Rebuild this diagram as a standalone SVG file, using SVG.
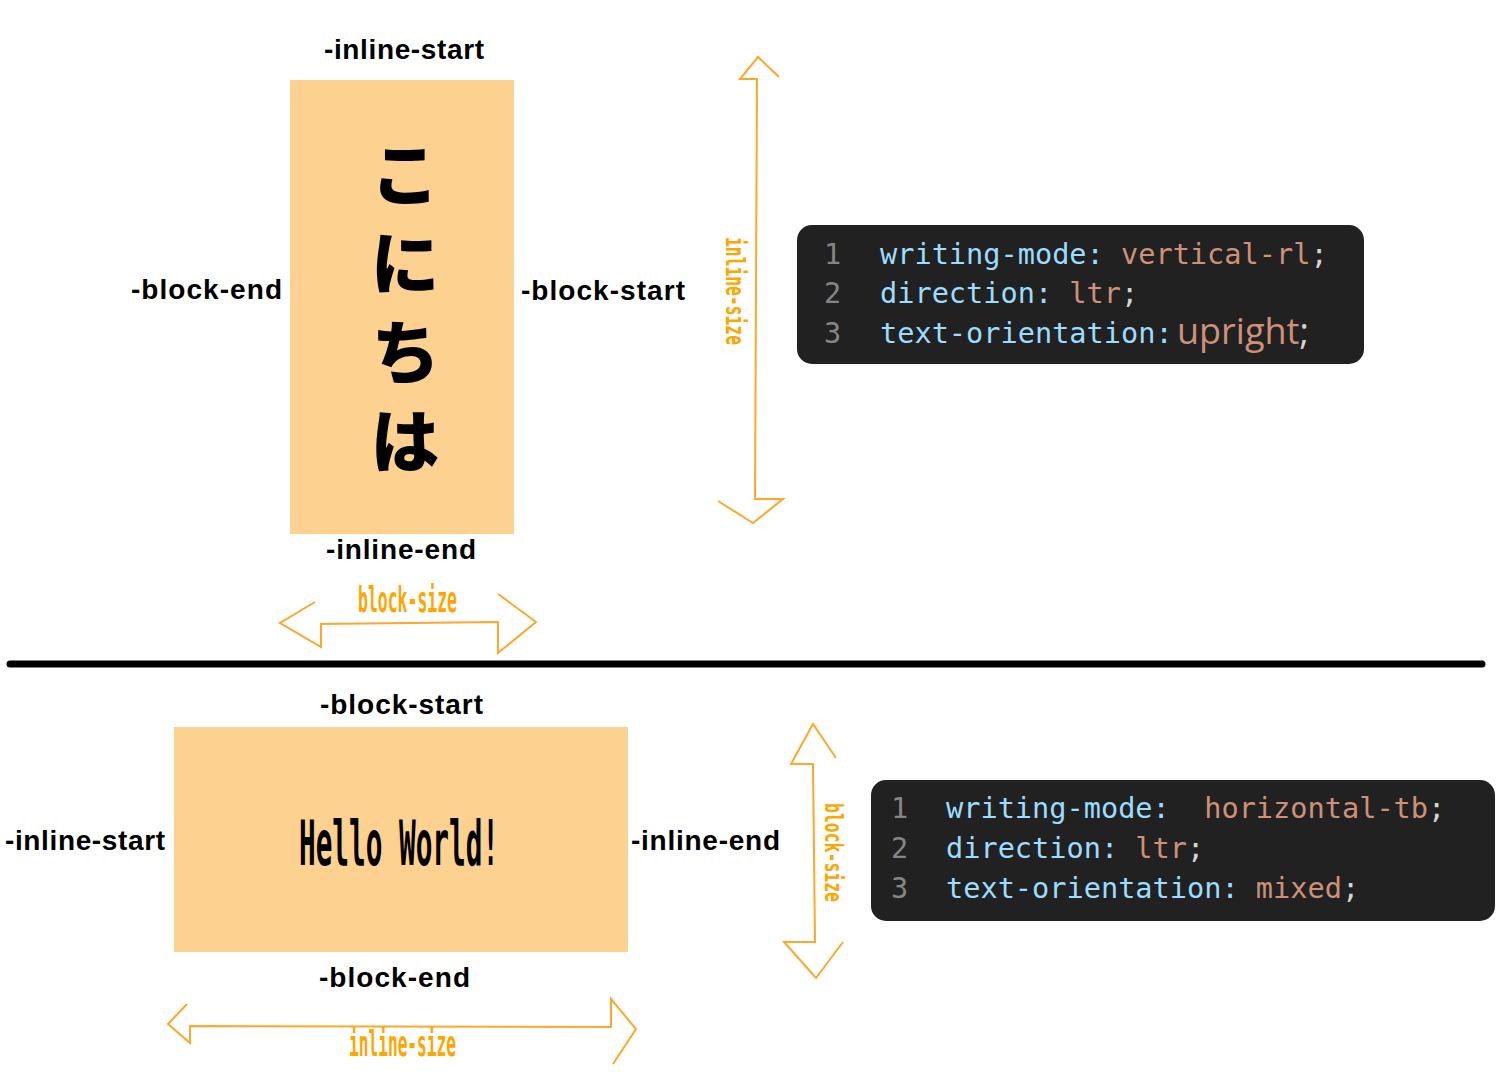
<svg xmlns="http://www.w3.org/2000/svg" width="1500" height="1077" viewBox="0 0 1500 1077">
<style>
.lbl{font-family:"Liberation Sans",Arial,sans-serif;font-weight:bold;font-size:28px;fill:#000}
.box{fill:#fdd290}
.arr{fill:none;stroke:#ffa62b;stroke-width:2;stroke-linejoin:miter}
.dim{font-family:"DejaVu Sans Mono",monospace;font-weight:bold;fill:#ffa500}
.code{fill:#212121}
.mono{font-family:"DejaVu Sans Mono","Liberation Mono",monospace;font-size:28.6px;white-space:pre}
.ln{fill:#858585}
.prop{fill:#9cdcfe}
.val{fill:#ce9178}
.pun{fill:#d4d4d4}
.jp{font-family:"Noto Sans CJK JP",sans-serif;font-weight:900;font-size:70px;fill:#000;writing-mode:vertical-rl;letter-spacing:19px}
</style>
<rect width="1500" height="1077" fill="#fff"/>

<g id="top-box">
<rect class="box" x="290" y="80" width="224" height="454"/>
<text class="jp" x="405" y="139">こにちは</text>
</g>

<g id="top-labels">
<text class="lbl" x="324" y="59" textLength="160">-inline-start</text>
<text class="lbl" x="131" y="299" textLength="151">-block-end</text>
<text class="lbl" x="521" y="300" textLength="164">-block-start</text>
<text class="lbl" x="326" y="559" textLength="150">-inline-end</text>
</g>

<g id="bottom-box">
<rect class="box" x="174" y="727" width="454" height="225"/>
<text transform="translate(299,865) scale(0.4466,1)" x="0" y="0" font-family="DejaVu Sans Mono,monospace" font-weight="bold" font-size="62" fill="#000">Hello World!</text>
</g>

<g id="bottom-labels">
<text class="lbl" x="320" y="714" textLength="163">-block-start</text>
<text class="lbl" x="5" y="850" textLength="160">-inline-start</text>
<text class="lbl" x="631" y="850" textLength="149">-inline-end</text>
<text class="lbl" x="319" y="987" textLength="151">-block-end</text>
</g>

<g id="connectors">
<line x1="10" y1="664" x2="1482" y2="664" stroke="#000" stroke-width="7" stroke-linecap="round"/>
<polyline class="arr" points="779,77 758,57 740,79 757,79 755,499 783,499 753,523 718,501"/>
<polyline class="arr" points="315,602 280,623 321,647 321,624 498,622 498,653 536,622 498,594"/>
<polyline class="arr" points="836,758 813,724 791,764 813,764 815,942 784,942 816,978 843,942"/>
<polyline class="arr" points="187,1004 168,1024 190,1043 190,1026 611,1027 611,999 636,1029 613,1064"/>
</g>

<g id="dimension-labels">
<text class="dim" x="358" y="612" font-size="35" textLength="99" lengthAdjust="spacingAndGlyphs">block-size</text>
<text class="dim" x="349" y="1056" font-size="36" textLength="107" lengthAdjust="spacingAndGlyphs">inline-size</text>
<text class="dim" transform="translate(726,237) rotate(90)" x="0" y="0" font-size="26" textLength="108" lengthAdjust="spacingAndGlyphs">inline-size</text>
<text class="dim" transform="translate(825,803) rotate(90)" x="0" y="0" font-size="24" textLength="99" lengthAdjust="spacingAndGlyphs">block-size</text>
</g>

<g id="code-top">
<rect class="code" x="797" y="225" width="567" height="139" rx="15"/>
<text class="mono ln" x="824" y="264">1</text>
<text class="mono ln" x="824" y="303">2</text>
<text class="mono ln" x="824" y="343">3</text>
<text class="mono" x="880" y="264"><tspan class="prop">writing-mode:</tspan><tspan class="val"> vertical-rl</tspan><tspan class="pun">;</tspan></text>
<text class="mono" x="880" y="303"><tspan class="prop">direction:</tspan><tspan class="val"> ltr</tspan><tspan class="pun">;</tspan></text>
<text class="mono prop" x="880" y="343">text-orientation:</text>
<text x="1177" y="344" font-family="Open Sans,Noto Sans,sans-serif" font-size="36"><tspan class="val">upright</tspan><tspan class="pun">;</tspan></text>
</g>

<g id="code-bottom">
<rect class="code" x="871" y="780" width="624" height="141" rx="15"/>
<text class="mono ln" x="891" y="818">1</text>
<text class="mono ln" x="891" y="858">2</text>
<text class="mono ln" x="891" y="898">3</text>
<text class="mono" x="946" y="818"><tspan class="prop">writing-mode:</tspan><tspan class="val">  horizontal-tb</tspan><tspan class="pun">;</tspan></text>
<text class="mono" x="946" y="858"><tspan class="prop">direction:</tspan><tspan class="val"> ltr</tspan><tspan class="pun">;</tspan></text>
<text class="mono" x="946" y="898"><tspan class="prop">text-orientation:</tspan><tspan class="val"> mixed</tspan><tspan class="pun">;</tspan></text>
</g>
</svg>
